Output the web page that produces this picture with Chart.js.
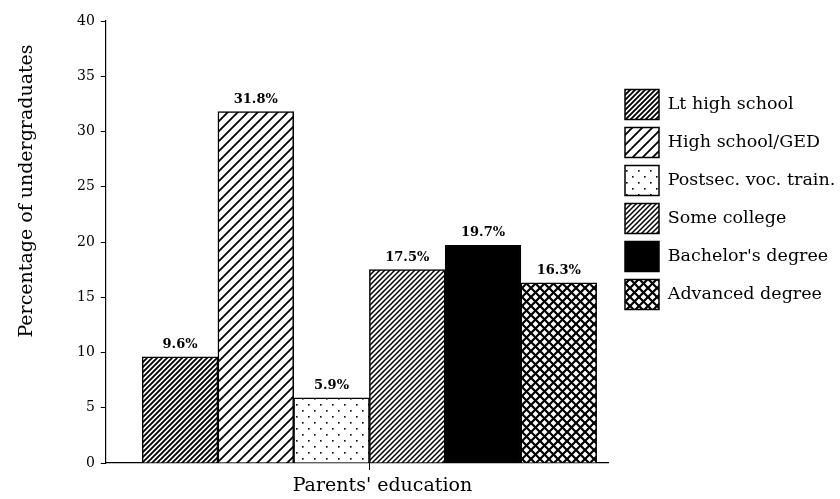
<!DOCTYPE html>
<html>
<head>
<meta charset="utf-8">
<script src="https://cdn.jsdelivr.net/npm/chart.js@4.4.1/dist/chart.umd.min.js"></script>
<style>
  body { margin: 0; background: #fff; }
  #wrap { width: 840px; height: 499px; }
</style>
</head>
<body>
<div id="wrap"><canvas id="grafico"></canvas></div>
<script>
// dados
const categorias = ['Lt high school', 'High school/GED', 'Postsec. voc. train.', 'Some college', "Bachelor's degree", 'Advanced degree'];
const valores = [9.6, 31.8, 5.9, 17.5, 19.7, 16.3];
const ticksY = [0, 5, 10, 15, 20, 25, 30, 35, 40];
const tituloX = "Parents' education";
const tituloY = 'Percentage of undergraduates';

const FONTE = '"DejaVu Serif"';

// padrões de preenchimento
function padrao(tipo) {
  if (tipo === 'solido') return '#000';
  const c = document.createElement('canvas');
  const ctx = c.getContext('2d');
  let s = 9;
  if (tipo === 'denso' || tipo === 'denso2') s = 5;
  if (tipo === 'largo') s = 10;
  if (tipo === 'pontos') s = 12;
  c.width = s; c.height = s;
  ctx.fillStyle = '#fff';
  ctx.fillRect(0, 0, s, s);
  ctx.strokeStyle = '#000';
  ctx.fillStyle = '#000';
  function barraSimples() {
    ctx.beginPath();
    ctx.moveTo(-1, s + 1); ctx.lineTo(s + 1, -1);
    ctx.moveTo(-1, 1); ctx.lineTo(1, -1);
    ctx.moveTo(s - 1, s + 1); ctx.lineTo(s + 1, s - 1);
    ctx.stroke();
  }
  if (tipo === 'denso') { ctx.lineWidth = 1.9; barraSimples(); }
  if (tipo === 'denso2') { ctx.lineWidth = 1.5; barraSimples(); }
  if (tipo === 'largo') { ctx.lineWidth = 1.8; barraSimples(); }
  if (tipo === 'pontos') {
    ctx.fillRect(2, 2, 1.6, 1.6);
    ctx.fillRect(8, 8, 1.6, 1.6);
  }
  if (tipo === 'cruz') {
    ctx.lineWidth = 2.2;
    barraSimples();
    ctx.beginPath();
    ctx.moveTo(-1, -1); ctx.lineTo(s + 1, s + 1);
    ctx.moveTo(-1, s - 1); ctx.lineTo(1, s + 1);
    ctx.moveTo(s - 1, -1); ctx.lineTo(s + 1, 1);
    ctx.stroke();
  }
  return ctx.createPattern(c, 'repeat');
}

const preenchimentos = [padrao('denso'), padrao('largo'), padrao('pontos'), padrao('denso2'), padrao('solido'), padrao('cruz')];

// rótulos de valor em cima das barras
const rotulosValor = {
  id: 'rotulosValor',
  afterDatasetsDraw(chart) {
    const ctx = chart.ctx;
    ctx.save();
    ctx.fillStyle = '#000';
    ctx.font = 'bold 13px ' + FONTE;
    ctx.textAlign = 'center';
    ctx.textBaseline = 'alphabetic';
    chart.data.datasets.forEach((ds, i) => {
      const el = chart.getDatasetMeta(i).data[0];
      ctx.fillText(valores[i].toFixed(1) + '%', el.x, el.y - 9);
    });
    ctx.restore();
  }
};

// título do eixo Y (fora do centro, como no original)
const tituloEixoY = {
  id: 'tituloEixoY',
  afterDraw(chart) {
    const ctx = chart.ctx;
    ctx.save();
    ctx.translate(27, 191);
    ctx.rotate(-Math.PI / 2);
    ctx.fillStyle = '#000';
    ctx.font = '19px ' + FONTE;
    ctx.textAlign = 'center';
    ctx.textBaseline = 'middle';
    ctx.fillText(tituloY, 0, 0);
    ctx.restore();
  }
};

// largura fixa da legenda e um recuo entre ela e o gráfico
const LARGURA_LEGENDA = 232;
const RECUO_LEGENDA = 9;
const espacoLegenda = {
  id: 'espacoLegenda',
  beforeLayout(chart) {
    const leg = chart.legend;
    if (leg && !leg._ajustada) {
      const fitOriginal = leg.fit;
      leg.fit = function () {
        this.maxWidth = Math.max(this.maxWidth, LARGURA_LEGENDA);
        fitOriginal.call(this);
        this.width = LARGURA_LEGENDA;
      };
      leg._ajustada = true;
    }
  },
  afterLayout(chart) {
    if (chart.legend) chart.legend.left += RECUO_LEGENDA;
  }
};

const grafico = new Chart(document.getElementById('grafico'), {
  type: 'bar',
  data: {
    datasets: categorias.map((nome, i) => ({
      label: nome,
      data: [{ x: i + 1, y: valores[i] }],
      backgroundColor: preenchimentos[i],
      borderColor: '#000',
      borderWidth: 1.5,
      grouped: false,
      barPercentage: 1,
      categoryPercentage: 1
    }))
  },
  plugins: [rotulosValor, tituloEixoY, espacoLegenda],
  options: {
    responsive: true,
    maintainAspectRatio: false,
    animation: false,
    layout: { padding: { top: 21, left: 71, bottom: 0, right: 0 } },
    plugins: {
      tooltip: { enabled: false },
      legend: {
        position: 'right',
        align: 'start',
        title: { display: true, text: '', padding: { top: 46, bottom: 0 } },
        labels: {
          color: '#000',
          font: { family: FONTE, size: 17.5 },
          boxWidth: 34,
          boxHeight: 30,
          padding: 8
        }
      }
    },
    scales: {
      x: {
        type: 'linear',
        offset: false,
        min: 0.02,
        max: 6.65,
        afterBuildTicks: (eixo) => { eixo.ticks = [{ value: 3.5 }]; },
        afterFit: (eixo) => { eixo.height = 36; },
        ticks: {
          color: '#000',
          font: { family: FONTE, size: 19 },
          padding: 5,
          labelOffset: 13,
          maxRotation: 0,
          callback: () => tituloX
        },
        grid: { drawOnChartArea: false, offset: false, tickLength: 7, color: '#000' },
        border: { color: '#000', width: 1.2 }
      },
      y: {
        min: 0,
        max: 40,
        afterBuildTicks: (eixo) => { eixo.ticks = ticksY.map(v => ({ value: v })); },
        ticks: {
          color: '#000',
          font: { family: FONTE, size: 14 },
          padding: 6
        },
        grid: { drawOnChartArea: false, tickLength: 5, color: '#000' },
        border: { color: '#000', width: 1.2 }
      }
    }
  }
});
</script>
</body>
</html>
